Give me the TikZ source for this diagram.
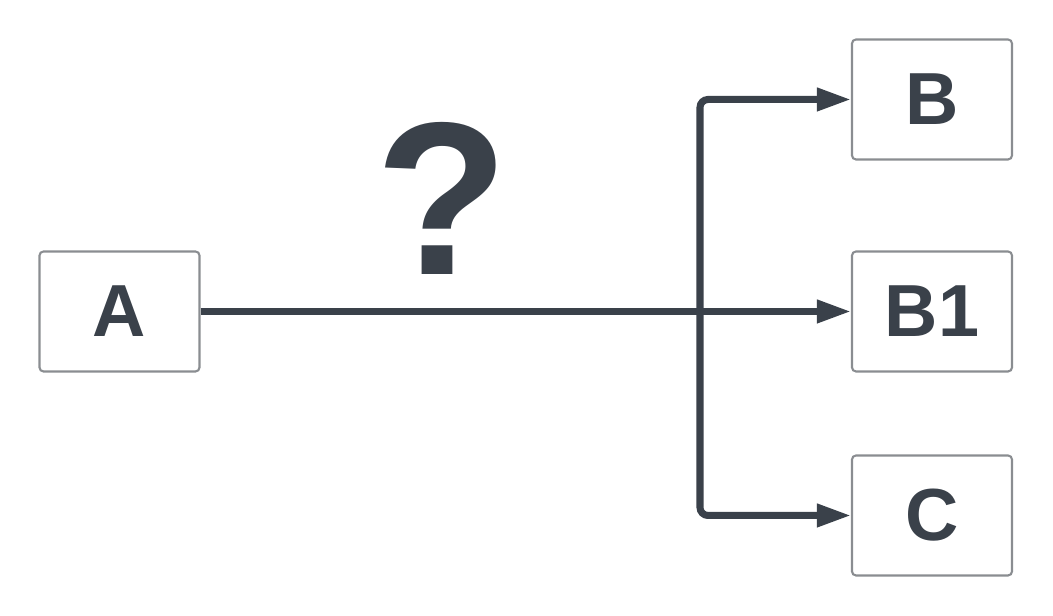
\documentclass[tikz,border=0pt]{standalone}
\usepackage{fontspec}
\setmainfont{Liberation Sans}
\usetikzlibrary{arrows.meta,positioning}
\definecolor{ink}{HTML}{3A414A}
\definecolor{boxline}{HTML}{8A8D91}
\tikzset{
    box/.style={draw=boxline,line width=0.6pt,rounded corners=0.04cm,minimum width=1.6cm,minimum height=1.2cm,inner sep=0pt,text=ink,font=\fontsize{21}{25}\selectfont\bfseries},
    arr/.style={draw=ink,line width=2pt,-{Triangle[length=0.34cm,width=0.22cm]}}
}
\begin{document}
\begin{tikzpicture}
        \useasboundingbox (0,0) rectangle (10.53,6.16);
        % boxes
        \node[box] (A) at (1.195,3.045) {A};
        \node[box] (B1) at (9.32,3.045) {B1};
        \node[box] (B) at (9.32,5.165) {B};
        \node[box] (C) at (9.32,1.005) {C};
        \node[text=ink,font=\fontsize{62}{70}\selectfont\bfseries] (q) at (4.42,4.18) {?};
        % arrows
        \coordinate (j) at (7.0,3.045);
        \draw[arr] (A) -- (B1);
        \draw[arr,rounded corners=0.08cm] (j) |- (B);
        \draw[arr,rounded corners=0.08cm] (j) |- (C);
    \end{tikzpicture}
\end{document}
